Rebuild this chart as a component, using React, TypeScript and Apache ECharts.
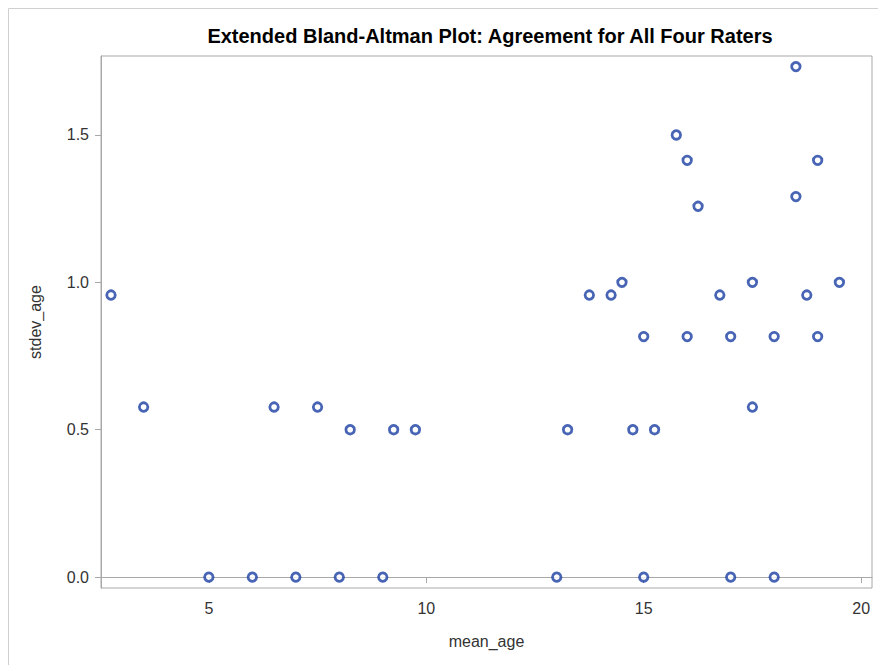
import React, { useEffect, useRef } from "react";
import * as echarts from "echarts";

const meanAge = [
  2.75, 3.5, 5, 6, 6.5, 7, 7.5, 8, 8.25, 9, 9.25, 9.75,
  13, 13.25, 13.75, 14.25, 14.5, 14.75, 15, 15, 15.25, 15.75,
  16, 16, 16.25, 16.75, 17, 17, 17.5, 17.5, 18, 18, 18.5, 18.5,
  18.75, 19, 19, 19.5,
];
const stdevAge = [
  0.957, 0.577, 0, 0, 0.577, 0, 0.577, 0, 0.5, 0, 0.5, 0.5,
  0, 0.5, 0.957, 0.957, 1.0, 0.5, 0.816, 0, 0.5, 1.5,
  1.414, 0.816, 1.258, 0.957, 0.816, 0, 1.0, 0.577, 0.816, 0, 1.732, 1.291,
  0.957, 1.414, 0.816, 1.0,
];
const xTicks = [5, 10, 15, 20];
const yTicks = [0, 0.5, 1.0, 1.5];

const FONT = "'Liberation Sans', Arial, sans-serif";

export default function App() {
  const ref = useRef<HTMLDivElement>(null);
  useEffect(() => {
    if (!ref.current) return;
    const chart = echarts.init(ref.current, null, { renderer: "svg" });
    const points = meanAge.map((x, i) => [x, stdevAge[i]]);
    chart.setOption({
      animation: false,
      backgroundColor: "#ffffff",
      textStyle: { fontFamily: FONT },
      title: {
        text: "Extended Bland-Altman Plot: Agreement for All Four Raters",
        left: 485,
        textAlign: "center",
        top: 21,
        textStyle: { fontFamily: FONT, fontSize: 20, fontWeight: "bold", color: "#000000" },
      },
      graphic: [
        {
          type: "rect",
          shape: { x: 8.5, y: 8.5, width: 900, height: 700 },
          style: { fill: "none", stroke: "#d0d0d0", lineWidth: 1 },
          silent: true,
        },
      ],
      grid: {
        left: 101,
        top: 56,
        right: 6,
        bottom: 77,
        show: true,
        borderColor: "#a8a8a8",
        borderWidth: 1,
        backgroundColor: "transparent",
      },
      xAxis: {
        type: "value",
        min: 2.52,
        max: 20.25,
        name: "mean_age",
        nameLocation: "middle",
        nameGap: 45,
        nameTextStyle: { fontFamily: FONT, fontSize: 16, color: "#333333" },
        axisLine: { show: true, lineStyle: { color: "#a8a8a8", width: 1 } },
        axisTick: { show: true, length: 6, customValues: xTicks, lineStyle: { color: "#a8a8a8" } },
        axisLabel: {
          customValues: xTicks,
          margin: 12,
          fontFamily: FONT,
          fontSize: 16,
          color: "#333333",
          formatter: (v: number) => String(v),
        },
        splitLine: { show: false },
      },
      yAxis: {
        type: "value",
        min: -0.037,
        max: 1.768,
        name: "stdev_age",
        nameLocation: "middle",
        nameGap: 58,
        nameRotate: 90,
        nameTextStyle: { fontFamily: FONT, fontSize: 16, color: "#333333" },
        axisLine: { show: true, lineStyle: { color: "#a8a8a8", width: 1 } },
        axisTick: { show: true, length: 6, customValues: yTicks, lineStyle: { color: "#a8a8a8" } },
        axisLabel: {
          customValues: yTicks,
          margin: 12,
          fontFamily: FONT,
          fontSize: 16,
          color: "#333333",
          formatter: (v: number) => v.toFixed(1),
        },
        splitLine: { show: false },
      },
      series: [
        {
          type: "scatter",
          data: points,
          symbol: "circle",
          symbolSize: 8.5,
          itemStyle: { color: "#ffffff", borderColor: "#1a3fa3", borderWidth: 2.8 },
        },
      ],
    });
    return () => chart.dispose();
  }, []);
  return (
    <div
      ref={ref}
      style={{ position: "fixed", left: 0, top: 0, width: 878, height: 665 }}
    />
  );
}
